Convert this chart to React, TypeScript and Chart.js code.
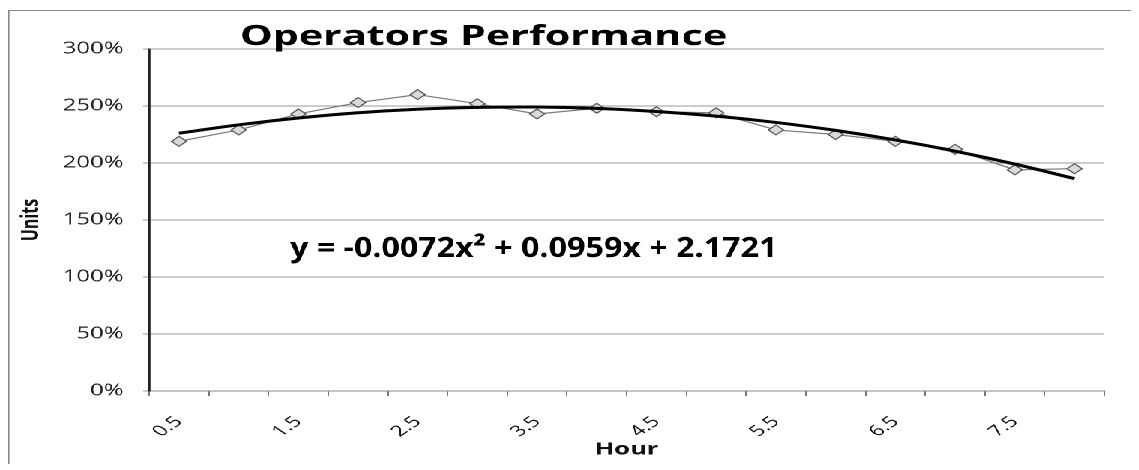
import { useEffect, useRef } from 'react';
import { Chart, registerables } from 'chart.js';

Chart.register(...registerables);

const hours = ['0.5', '1', '1.5', '2', '2.5', '3', '3.5', '4', '4.5', '5', '5.5', '6', '6.5', '7', '7.5', '8'];
const performance = [2.19, 2.29, 2.43, 2.53, 2.6, 2.52, 2.43, 2.48, 2.45, 2.44, 2.29, 2.25, 2.19, 2.12, 1.94, 1.95];
const trend = [2.261, 2.335, 2.395, 2.441, 2.472, 2.488, 2.491, 2.479, 2.452, 2.411, 2.356, 2.286, 2.202, 2.104, 1.991, 1.863];
const chartTitle = 'Operators Performance';
const equation = 'y = -0.0072x² + 0.0959x + 2.1721';
const xTitle = 'Hour';
const yTitle = 'Units';

const FONT = '"Open Sans", "DejaVu Sans", sans-serif';
const STRETCH = 1.5;

const overlayText = {
  id: 'overlayText',
  afterDraw(chart: any) {
    const ctx = chart.ctx;
    ctx.save();
    ctx.fillStyle = '#000';
    ctx.textBaseline = 'alphabetic';
    ctx.font = `bold 28px ${FONT}`;
    ctx.textAlign = 'center';
    ctx.fillText(chartTitle, 316, 34, 325);
    ctx.textAlign = 'left';
    ctx.fillText(equation, 187, 246, 325);
    ctx.restore();
  },
};

export default function App() {
  const ref = useRef<HTMLCanvasElement>(null);

  useEffect(() => {
    const chart = new Chart(ref.current!, {
      type: 'line',
      data: {
        labels: hours,
        datasets: [
          {
            label: 'Trend',
            data: trend,
            borderColor: '#000',
            borderWidth: 3,
            pointRadius: 0,
            tension: 0.4,
            fill: false,
          },
          {
            label: 'Performance',
            data: performance,
            borderColor: '#7a7a7a',
            borderWidth: 1.2,
            pointStyle: 'rectRot',
            pointRadius: 5,
            pointBackgroundColor: '#d9d9d9',
            pointBorderColor: '#555',
            pointBorderWidth: 1,
            tension: 0,
            fill: false,
          },
        ],
      },
      options: {
        animation: false,
        responsive: true,
        maintainAspectRatio: false,
        devicePixelRatio: 2,
        layout: { padding: { top: 38, right: 20, left: 0, bottom: 0 } },
        plugins: {
          legend: { display: false },
          tooltip: { enabled: false },
          title: { display: false },
        },
        scales: {
          x: {
            type: 'category',
            offset: true,
            grid: { offset: true, drawOnChartArea: false, drawTicks: true, tickLength: 5, color: '#777' },
            border: { display: true, color: '#888', width: 1 },
            ticks: {
              autoSkip: false,
              maxRotation: 45,
              minRotation: 45,
              padding: 17,
              color: '#111',
              font: { family: FONT, size: 15 },
              callback: (_v: any, i: number) => (i % 2 === 0 ? hours[i] : ''),
            },
            title: {
              display: true,
              text: xTitle,
              color: '#111',
              font: { family: FONT, size: 17, weight: 'bold' },
              padding: { top: 0, bottom: 5 },
            },
            afterFit: (s: any) => {
              s.height = 74;
            },
          },
          y: {
            min: 0,
            max: 3,
            ticks: {
              stepSize: 0.5,
              padding: 13,
              color: '#222',
              font: { family: FONT, size: 16 },
              callback: (v: any) => Math.round(Number(v) * 100) + '%',
            },
            grid: { color: '#999', tickLength: 4, drawTicks: true },
            border: { display: true, color: '#222', width: 1.4 },
            title: {
              display: true,
              text: yTitle,
              color: '#111',
              font: { family: FONT, size: 16, weight: 'bold' },
              padding: { top: 5, bottom: 0 },
            },
            afterFit: (s: any) => {
              s.width = 93;
            },
          },
        },
      },
      plugins: [overlayText],
    } as any);
    return () => chart.destroy();
  }, []);

  return (
    <div
      style={{
        position: 'relative',
        top: 2,
        width: 752,
        height: 456,
        transform: `scaleX(${STRETCH})`,
        transformOrigin: '0 0',
        boxSizing: 'border-box',
        border: '1px solid #8c8c8c',
        background: '#fff',
      }}
    >
      <div style={{ position: 'relative', width: 750, height: 454 }}>
        <canvas ref={ref} />
      </div>
    </div>
  );
}
